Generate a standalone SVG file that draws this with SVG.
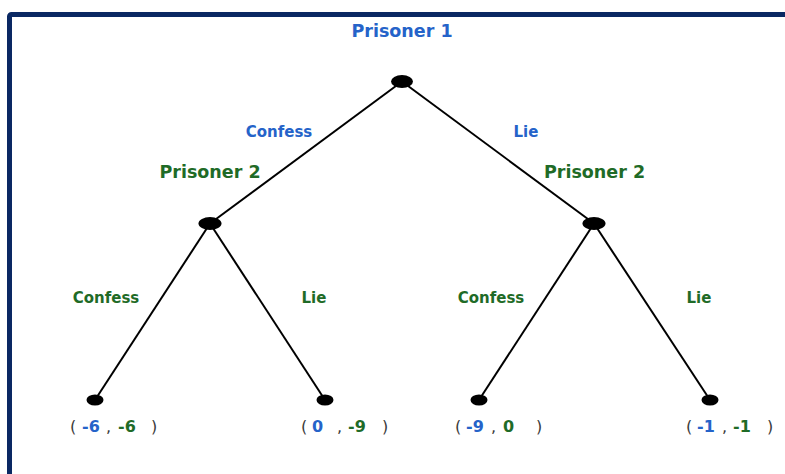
<svg xmlns="http://www.w3.org/2000/svg" width="785" height="474" viewBox="0 0 785 474">
<style>
text{font-family:"DejaVu Sans","Liberation Sans",sans-serif;font-weight:bold}
.b{fill:#2563c9}
.g{fill:#1f6b27}
.p{fill:#3a3a3a;font-weight:normal}
.edge{stroke:#000;stroke-width:2;fill:none}
.node{fill:#000}
</style>
<rect x="0" y="0" width="785" height="474" fill="#fff"/>
<rect x="9.5" y="14.5" width="800" height="480" rx="2" fill="none" stroke="#0a2863" stroke-width="5"/>
<g id="connectors">
<line class="edge" x1="402" y1="81.5" x2="210" y2="223.5"/>
<line class="edge" x1="402" y1="81.5" x2="594" y2="223.5"/>
<line class="edge" x1="210" y1="223.5" x2="95" y2="400"/>
<line class="edge" x1="210" y1="223.5" x2="325" y2="400"/>
<line class="edge" x1="594" y1="223.5" x2="479" y2="400"/>
<line class="edge" x1="594" y1="223.5" x2="710" y2="400"/>
<text class="b" x="279" y="137" font-size="15" text-anchor="middle">Confess</text>
<text class="b" x="526" y="137" font-size="15" text-anchor="middle">Lie</text>
<text class="g" x="106" y="303" font-size="15" text-anchor="middle">Confess</text>
<text class="g" x="314" y="303" font-size="15" text-anchor="middle">Lie</text>
<text class="g" x="491" y="303" font-size="15" text-anchor="middle">Confess</text>
<text class="g" x="699" y="303" font-size="15" text-anchor="middle">Lie</text>
</g>
<g id="root">
<ellipse class="node" cx="402" cy="81.5" rx="11" ry="6.5"/>
<text class="b" x="402" y="37" font-size="17.5" text-anchor="middle">Prisoner 1</text>
</g>
<g id="p2-left">
<ellipse class="node" cx="210" cy="223.5" rx="11.5" ry="6.5"/>
<text class="g" x="210" y="178" font-size="17.5" text-anchor="middle">Prisoner 2</text>
</g>
<g id="p2-right">
<ellipse class="node" cx="594" cy="223.5" rx="11.5" ry="6.5"/>
<text class="g" x="594.5" y="178" font-size="17.5" text-anchor="middle">Prisoner 2</text>
</g>
<g id="leaf1">
<ellipse class="node" cx="95" cy="400" rx="8.5" ry="5.5"/>
<text font-size="16" y="432"><tspan class="p" x="70">(</tspan><tspan class="b" x="82">-6</tspan><tspan class="p" x="106">,</tspan><tspan class="g" x="118">-6</tspan><tspan class="p" x="151">)</tspan></text>
</g>
<g id="leaf2">
<ellipse class="node" cx="325" cy="400" rx="8.5" ry="5.5"/>
<text font-size="16" y="432"><tspan class="p" x="301">(</tspan><tspan class="b" x="312">0</tspan><tspan class="p" x="337">,</tspan><tspan class="g" x="348">-9</tspan><tspan class="p" x="382">)</tspan></text>
</g>
<g id="leaf3">
<ellipse class="node" cx="479" cy="400" rx="8.5" ry="5.5"/>
<text font-size="16" y="432"><tspan class="p" x="455">(</tspan><tspan class="b" x="466">-9</tspan><tspan class="p" x="491">,</tspan><tspan class="g" x="503">0</tspan><tspan class="p" x="536">)</tspan></text>
</g>
<g id="leaf4">
<ellipse class="node" cx="710" cy="400" rx="8.5" ry="5.5"/>
<text font-size="16" y="432"><tspan class="p" x="686">(</tspan><tspan class="b" x="697">-1</tspan><tspan class="p" x="722">,</tspan><tspan class="g" x="733">-1</tspan><tspan class="p" x="767">)</tspan></text>
</g>
</svg>
